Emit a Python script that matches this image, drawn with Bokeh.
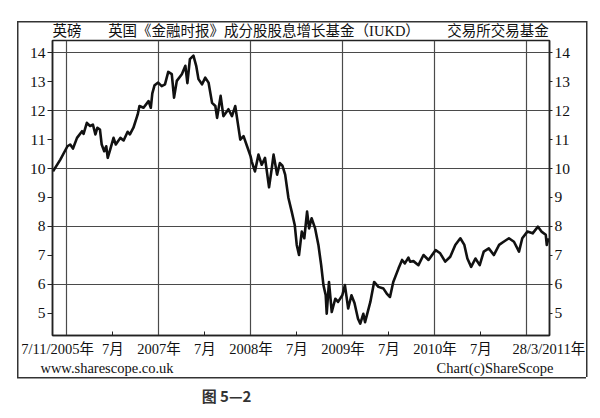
import pandas as pd
from bokeh.plotting import figure
from bokeh.models import FixedTicker, LinearAxis, Range1d
from bokeh.embed import file_html
from bokeh.resources import INLINE

# ---- data ----
dates = [
    "2005-11-07", "2005-12-06", "2006-01-03", "2006-01-14", "2006-01-25", "2006-02-10",
    "2006-03-02", "2006-03-08", "2006-03-21", "2006-04-03", "2006-04-14", "2006-04-24",
    "2006-05-02", "2006-05-12", "2006-05-19", "2006-05-29", "2006-06-06", "2006-06-12",
    "2006-06-22", "2006-07-05", "2006-07-14", "2006-08-01", "2006-08-14", "2006-08-30",
    "2006-09-08", "2006-09-22", "2006-10-09", "2006-10-16", "2006-11-01", "2006-11-21",
    "2006-11-30", "2006-12-06", "2006-12-15", "2006-12-29", "2007-01-12", "2007-01-25",
    "2007-02-07", "2007-02-21", "2007-03-02", "2007-03-13", "2007-04-02", "2007-04-16",
    "2007-04-24", "2007-05-04", "2007-05-18", "2007-05-29", "2007-06-07", "2007-06-21",
    "2007-07-04", "2007-07-17", "2007-07-31", "2007-08-13", "2007-08-20", "2007-09-03",
    "2007-09-14", "2007-10-04", "2007-10-18", "2007-10-31", "2007-11-09", "2007-11-20",
    "2007-12-03", "2007-12-17", "2007-12-31", "2008-01-04", "2008-01-17", "2008-01-31",
    "2008-02-13", "2008-02-26", "2008-03-13", "2008-03-24", "2008-03-31", "2008-04-14",
    "2008-04-25", "2008-05-05", "2008-05-16", "2008-05-29", "2008-06-11", "2008-06-23",
    "2008-07-01", "2008-07-10", "2008-07-21", "2008-07-31", "2008-08-11", "2008-08-19",
    "2008-08-29", "2008-09-12", "2008-09-25", "2008-10-06", "2008-10-15", "2008-10-24",
    "2008-10-28", "2008-11-06", "2008-11-17", "2008-12-01", "2008-12-12", "2008-12-29",
    "2009-01-09", "2009-01-22", "2009-02-04", "2009-02-16", "2009-03-02", "2009-03-11",
    "2009-03-23", "2009-03-30", "2009-04-20", "2009-05-05", "2009-05-22", "2009-06-11",
    "2009-06-24", "2009-07-07", "2009-07-20", "2009-08-10", "2009-08-24", "2009-09-04",
    "2009-09-18", "2009-09-25", "2009-10-08", "2009-10-28", "2009-11-17", "2009-12-07",
    "2010-01-04", "2010-01-22", "2010-02-11", "2010-03-03", "2010-03-23", "2010-04-12",
    "2010-04-28", "2010-05-10", "2010-05-25", "2010-06-11", "2010-06-28", "2010-07-14",
    "2010-08-03", "2010-08-23", "2010-09-13", "2010-10-01", "2010-10-22", "2010-11-11",
    "2010-12-01", "2010-12-14", "2011-01-03", "2011-01-24", "2011-02-14", "2011-02-28",
    "2011-03-17", "2011-03-21", "2011-03-28",
]
prices = [
    9.90, 10.31, 10.77, 10.83, 10.69, 11.06,
    11.29, 11.20, 11.58, 11.47, 11.52, 11.18,
    11.41, 11.35, 10.83, 10.60, 10.77, 10.37,
    10.66, 11.06, 10.83, 11.06, 10.97, 11.27,
    11.18, 11.41, 11.87, 12.16, 12.10, 12.33,
    12.10, 12.60, 12.88, 12.97, 12.85, 12.91,
    13.34, 13.26, 12.45, 13.03, 13.26, 13.55,
    12.95, 13.78, 13.90, 13.55, 13.09, 12.91,
    13.14, 12.97, 12.27, 12.16, 11.75, 12.51,
    11.81, 12.05, 11.81, 12.16, 11.64, 11.00,
    11.12, 10.77, 10.42, 10.25, 9.90, 10.48,
    10.13, 10.37, 9.35, 10.02, 10.48, 9.79,
    10.19, 10.10, 9.79, 8.98, 8.51, 8.05,
    7.36, 7.01, 7.82, 7.59, 8.51, 7.93,
    8.28, 7.93, 7.36, 6.66, 5.97, 5.62,
    4.98, 6.08, 5.04, 5.50, 5.39, 5.62,
    5.97, 5.16, 5.62, 5.35, 4.81, 4.64,
    4.98, 4.69, 5.39, 6.08, 5.91, 5.85,
    5.68, 5.56, 6.08, 6.55, 6.84, 6.72,
    6.92, 6.78, 6.80, 6.66, 7.01, 6.84,
    7.18, 7.07, 6.78, 6.95, 7.36, 7.59,
    7.36, 6.89, 6.60, 6.89, 6.66, 7.13,
    7.24, 7.01, 7.36, 7.47, 7.59, 7.47,
    7.13, 7.59, 7.82, 7.76, 7.99, 7.82,
    7.71, 7.36, 7.59,
]
x_tick_pos = [2005.90, 2006.5, 2007.0, 2007.5, 2008.0, 2008.5, 2009.0, 2009.5, 2010.0, 2010.5, 2011.24]
x_tick_labels = ["7/11/2005年", "7月", "2007年", "7月", "2008年", "7月", "2009年", "7月", "2010年", "7月", "28/3/2011年"]
x_grid_pos = [2006, 2007, 2008, 2009, 2010, 2011]
x_minor_pos = [2006.5, 2007.5, 2008.5, 2009.5, 2010.5]
y_ticks = [5, 6, 7, 8, 9, 10, 11, 12, 13, 14]
y_grid = [6, 8, 10, 12, 14]

title_texts = ["英磅", "英国《金融时报》成分股股息增长基金（IUKD）", "交易所交易基金"]
footer_texts = ["www.sharescope.co.uk", "Chart(c)ShareScope"]
caption = "图 5—2"

# ---- conversion ----
dt = pd.to_datetime(dates)
xs = [d.year + (d.dayofyear - 1) / 365.25 for d in dt]

SERIF = "Liberation Serif, Noto Sans CJK SC"
W, H = 592, 410
FL, FR, FT, FB = 52, 549, 40, 335          # plot frame, canvas pixels
X0, X1 = 2005.843, 2011.246
Y0, Y1 = 4.229, 14.425

def px2x(px):
    return X0 + (px - FL) * (X1 - X0) / (FR - FL)

# outer frame drawn as CSS background lines behind the transparent border area
BOX_L, BOX_T, BOX_R, BOX_B = 17, 21, 586, 377
lw = 1.5
frame_css = {
    "background-image": ", ".join(["linear-gradient(#333333, #333333)"] * 4),
    "background-size": f"{BOX_R - BOX_L}px {lw}px, {BOX_R - BOX_L}px {lw}px, {lw}px {BOX_B - BOX_T}px, {lw}px {BOX_B - BOX_T}px",
    "background-position": f"{BOX_L}px {BOX_T}px, {BOX_L}px {BOX_B}px, {BOX_L}px {BOX_T}px, {BOX_R}px {BOX_T}px",
    "background-repeat": "no-repeat",
    "background-color": "white",
}

p = figure(width=W, height=H, output_backend="svg", toolbar_location=None,
           x_range=Range1d(X0, X1), y_range=Range1d(Y0, Y1),
           min_border_left=FL, min_border_right=W - FR, min_border_top=FT, min_border_bottom=H - FB,
           styles=frame_css)
p.background_fill_color = "white"
p.border_fill_color = None
p.outline_line_color = "#222222"
p.outline_line_width = 1.5

p.line(xs, prices, line_color="#111111", line_width=2.6, line_join="round")

# grid
p.xgrid.ticker = FixedTicker(ticks=x_grid_pos)
p.ygrid.ticker = FixedTicker(ticks=y_grid)
for g in (p.xgrid, p.ygrid):
    g.grid_line_color = "#4a4a4a"
    g.grid_line_width = 1.2

# x axis
xa = p.xaxis[0]
xa.ticker = FixedTicker(ticks=x_tick_pos, minor_ticks=x_minor_pos)
xa.major_label_overrides = {v: s for v, s in zip(x_tick_pos, x_tick_labels)}
xa.major_tick_in = 0
xa.major_tick_out = 0
xa.minor_tick_in = 4
xa.minor_tick_out = 0
xa.minor_tick_line_color = "#222222"
xa.axis_line_color = "#222222"
xa.axis_line_width = 1.5
xa.major_label_text_font = SERIF
xa.major_label_text_font_size = "14.5px"
xa.major_label_text_color = "#111111"
xa.major_label_standoff = 5

# y axes
ya = p.yaxis[0]
ya2 = LinearAxis()
p.add_layout(ya2, "right")
for a in (ya, ya2):
    a.ticker = FixedTicker(ticks=y_ticks)
    a.major_tick_in = 0
    a.major_tick_out = 5
    a.minor_tick_in = 0
    a.minor_tick_out = 0
    a.major_tick_line_color = "#222222"
    a.axis_line_color = "#222222"
    a.axis_line_width = 1.5
    a.major_label_text_font = SERIF
    a.major_label_text_font_size = "15.5px"
    a.major_label_text_color = "#111111"
    a.major_label_standoff = 2
ya2.major_tick_out = 3


def text_axis(place, centers_px, texts, standoff, size, font=SERIF, color="#111111", style="normal"):
    ticks = [px2x(c) for c in centers_px]
    ax = LinearAxis(ticker=FixedTicker(ticks=ticks, minor_ticks=[]),
                    major_label_overrides={t: s for t, s in zip(ticks, texts)})
    ax.axis_line_color = None
    ax.major_tick_line_color = None
    ax.minor_tick_line_color = None
    ax.major_tick_in = 0
    ax.major_tick_out = 0
    ax.minor_tick_out = 0
    ax.major_label_standoff = standoff
    ax.major_label_text_font = font
    ax.major_label_text_font_size = size
    ax.major_label_text_color = color
    ax.major_label_text_font_style = style
    p.add_layout(ax, place)
    return ax

# title row above the plot
text_axis("above", [66.5, 263.5, 497.5], title_texts, 2, "14.5px")
# footer row and caption below the x axis
text_axis("below", [106.5, 494.5], footer_texts, 0, "14.5px")
text_axis("below", [226], [caption], 6, "15px", font="Noto Sans CJK SC", color="#333333", style="bold")

open("out.html", "w").write(file_html(p, INLINE))
